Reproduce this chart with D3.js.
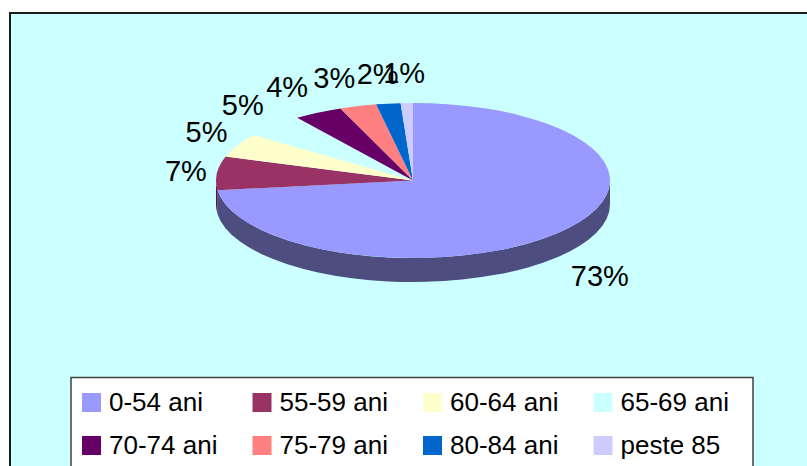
<!DOCTYPE html>
<html>
<head>
<meta charset="utf-8">
<script src="https://cdn.jsdelivr.net/npm/d3@7"></script>
<style>
  html, body { margin: 0; padding: 0; background: #ffffff; }
  svg { display: block; }
  text { font-family: Arial, "Liberation Sans", sans-serif; fill: #000; }
</style>
</head>
<body>
<svg id="chart" width="807" height="466"></svg>
<script>
const categories = ["0-54 ani", "55-59 ani", "60-64 ani", "65-69 ani", "70-74 ani", "75-79 ani", "80-84 ani", "peste 85"];
const values = [73, 7, 5, 5, 4, 3, 2, 1];
const colors = ["#9999FF", "#993366", "#FFFFCC", "#CCFFFF", "#660066", "#FF8080", "#0066CC", "#CCCCFF"];

const W = 807, H = 466;
const svg = d3.select("#chart");

// chart area
svg.append("rect").attr("x", 10).attr("y", 13).attr("width", W).attr("height", H)
  .attr("fill", "#CCFFFF").attr("stroke", "#1a1a1a").attr("stroke-width", 2);

// pie geometry
const cx = 413, cy = 180.5, rx = 197, ry = 77.5, depth = 24;
const k = ry / rx;
const D = depth / k;
const total = d3.sum(values);

const pie = d3.pie().sort(null).value(d => d);
const arcsData = pie(values);

const arc = d3.arc().innerRadius(0).outerRadius(rx);

const sideG = svg.append("g").attr("transform", `translate(${cx},${cy}) scale(1,${k})`);
const topG = svg.append("g").attr("transform", `translate(${cx},${cy}) scale(1,${k})`);

function darker(c) {
  const r = d3.rgb(c);
  return d3.rgb(r.r * 0.5, r.g * 0.5, r.b * 0.5).toString();
}

arcsData.forEach((a, i) => {
  const s0 = Math.max(a.startAngle, Math.PI / 2);
  const s1 = Math.min(a.endAngle, 3 * Math.PI / 2);
  if (s0 < s1) {
    const p = d3.path();
    const r = rx;
    p.moveTo(r * Math.sin(s0), -r * Math.cos(s0));
    p.arc(0, 0, r, s0 - Math.PI / 2, s1 - Math.PI / 2, false);
    p.lineTo(r * Math.sin(s1), -r * Math.cos(s1) + D);
    p.arc(0, D, r, s1 - Math.PI / 2, s0 - Math.PI / 2, true);
    p.closePath();
    sideG.append("path").attr("d", p.toString()).attr("fill", darker(colors[i]));
  }
});

topG.selectAll("path.slice").data(arcsData).join("path")
  .attr("class", "slice")
  .attr("d", arc)
  .attr("fill", (d, i) => colors[i]);

// data labels
const labelSize = 29;
const labelG = svg.append("g");
arcsData.forEach((a, i) => {
  const m = (a.startAngle + a.endAngle) / 2;
  const s = Math.sin(m), c = Math.cos(m);
  const t = labelG.append("text")
    .attr("font-size", labelSize)
    .attr("text-anchor", "middle")
    .text(Math.round(values[i] / total * 100) + "%");
  const halfW = t.node().getComputedTextLength() / 2;
  const lim = halfW + 10;
  const extra = Math.max(-lim, Math.min(lim, 85 * s));
  const x = cx + rx * s + extra;
  const yc = cy - (ry + 30) * c + (c < 0 ? depth : 0);
  t.attr("x", x).attr("y", yc + 0.36 * labelSize);
});

// legend
const lg = svg.append("g");
lg.append("rect").attr("x", 71).attr("y", 377.5).attr("width", 682).attr("height", 120)
  .attr("fill", "#ffffff").attr("stroke", "#404040").attr("stroke-width", 1.5);

const colStep = 170.5, rowStep = 43;
categories.forEach((name, i) => {
  const col = i % 4, row = Math.floor(i / 4);
  const x0 = 82 + col * colStep;
  const y0 = 393 + row * rowStep;
  lg.append("rect").attr("x", x0).attr("y", y0).attr("width", 19).attr("height", 19)
    .attr("fill", colors[i]);
  lg.append("text").attr("x", x0 + 27).attr("y", y0 + 18)
    .attr("font-size", 26).text(name);
});
</script>
</body>
</html>
